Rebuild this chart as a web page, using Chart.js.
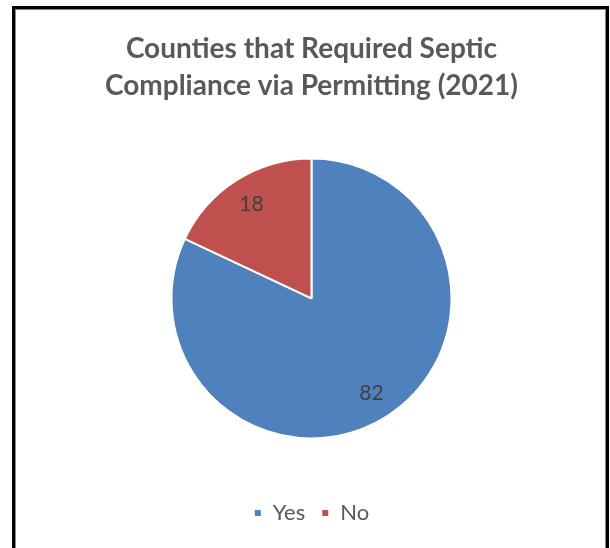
<!DOCTYPE html>
<html>
<head>
<meta charset="utf-8">
<script src="https://cdn.jsdelivr.net/npm/chart.js@4"></script>
<style>
  html, body { margin: 0; padding: 0; background: #fff; }
  #frame {
    position: absolute; left: 12px; top: 6px; width: 591px; height: 560px;
    border: 3px solid #000; border-bottom: none;
    box-shadow: inset 1px 1px 0 #888, inset -1px 0 0 #888;
    background: #fff;
  }
  #wrap { position: absolute; left: 15px; top: 9px; width: 591px; height: 539px; }
</style>
</head>
<body>
<div id="frame"></div>
<div id="wrap"><canvas id="chart_septic"></canvas></div>
<script>
const titleLines = ["Counties that Required Septic", "Compliance via Permitting (2021)"];
const categories = ["Yes", "No"];
const countyValues = [82, 18];
const sliceColors = ["#4F81BD", "#C0504D"];

// draws the value inside each slice, like excel does
const sliceLabels = {
    id: 'sliceLabels',
    afterDatasetsDraw(chart) {
        const ctx = chart.ctx;
        const meta = chart.getDatasetMeta(0);
        ctx.save();
        ctx.font = '21px Lato';
        ctx.fillStyle = '#404040';
        ctx.textAlign = 'center';
        ctx.textBaseline = 'middle';
        meta.data.forEach(function (arc, i) {
            const mid = (arc.startAngle + arc.endAngle) / 2;
            const r = arc.outerRadius * 0.8;
            ctx.fillText(String(countyValues[i]), arc.x + Math.cos(mid) * r, arc.y + Math.sin(mid) * r);
        });
        ctx.restore();
    }
};

const config = {
    type: 'pie',
    data: {
        labels: categories,
        datasets: [{
            data: countyValues,
            backgroundColor: sliceColors,
            borderColor: '#ffffff',
            borderWidth: 2,
            radius: 140
        }]
    },
    options: {
        responsive: true,
        maintainAspectRatio: false,
        animation: false,
        layout: { padding: { top: 22, bottom: 14, left: 2 } },
        plugins: {
            title: {
                display: true,
                text: titleLines,
                color: '#595959',
                font: { family: 'Lato', size: 28, weight: 'bold', lineHeight: 1.3 },
                padding: { top: 0, bottom: 7 }
            },
            legend: {
                position: 'bottom',
                labels: {
                    boxWidth: 8,
                    boxHeight: 8,
                    color: '#595959',
                    font: { family: 'Lato', size: 22 },
                    padding: 16
                }
            },
            tooltip: { enabled: false }
        }
    },
    plugins: [sliceLabels]
};

new Chart(document.getElementById('chart_septic'), config);
</script>
</body>
</html>
